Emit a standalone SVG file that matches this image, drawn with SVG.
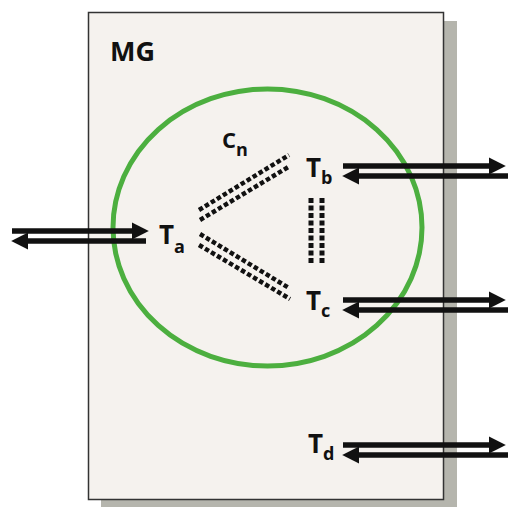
<svg xmlns="http://www.w3.org/2000/svg" width="508" height="507" viewBox="0 0 508 507">
<style>
.t{font-family:"Open Sans","Noto Sans",sans-serif;font-weight:700;fill:#111}
.big{font-size:26px}
.sub{font-size:18px}
.ln{stroke:#111;stroke-width:5.5;fill:none}
.dot{stroke:#111;stroke-width:4.5;fill:none;stroke-dasharray:4.5 2.5}
.vdot{stroke:#111;stroke-width:5;fill:none;stroke-dasharray:5 2.5}
</style>
<defs>
<marker id="ah" markerUnits="userSpaceOnUse" markerWidth="17" markerHeight="18" refX="3" refY="8" orient="auto" viewBox="0 0 16 16">
<path d="M0,0 L16,8 L0,16 z" fill="#111"/>
</marker>
</defs>
<rect x="101" y="21" width="356" height="490" fill="#b5b5ad"/>
<g id="MG">
<rect x="88.5" y="12.5" width="355" height="487" fill="#f5f2ee" stroke="#333" stroke-width="1.5"/>
<text class="t" x="110" y="61" font-size="27">MG</text>
</g>
<ellipse id="region" cx="267.5" cy="227.5" rx="154.5" ry="138.5" fill="none" stroke="#4caf3f" stroke-width="5"/>
<g id="Ta"><text class="t big" x="159" y="244">T<tspan class="sub" dy="9">a</tspan></text></g>
<g id="Tb"><text class="t big" x="306" y="177">T<tspan class="sub" dy="7">b</tspan></text></g>
<g id="Tc"><text class="t big" x="306" y="310">T<tspan class="sub" dy="7">c</tspan></text></g>
<g id="Td"><text class="t big" x="308" y="453">T<tspan class="sub" dy="7">d</tspan></text></g>
<g id="Cn"><text class="t" x="222" y="148" font-size="22">C<tspan font-size="18" dy="8">n</tspan></text></g>
<g id="connectors">
<line class="ln" x1="12" y1="231" x2="135" y2="231" marker-end="url(#ah)"/>
<line class="ln" x1="146" y1="241" x2="25" y2="241" marker-end="url(#ah)"/>
<line class="ln" x1="343" y1="166" x2="492" y2="166" marker-end="url(#ah)"/>
<line class="ln" x1="508" y1="176" x2="356" y2="176" marker-end="url(#ah)"/>
<line class="ln" x1="343" y1="300" x2="492" y2="300" marker-end="url(#ah)"/>
<line class="ln" x1="508" y1="310" x2="356" y2="310" marker-end="url(#ah)"/>
<line class="ln" x1="343" y1="445" x2="492" y2="445" marker-end="url(#ah)"/>
<line class="ln" x1="508" y1="455" x2="356" y2="455" marker-end="url(#ah)"/>
<line class="dot" x1="199" y1="210" x2="289" y2="155"/>
<line class="dot" x1="200" y1="220" x2="290" y2="166"/>
<line class="dot" x1="200" y1="234" x2="289" y2="288"/>
<line class="dot" x1="199" y1="245" x2="290" y2="299"/>
<line class="vdot" x1="311" y1="198" x2="311" y2="263"/>
<line class="vdot" x1="322" y1="198" x2="322" y2="263"/>
</g>
</svg>
